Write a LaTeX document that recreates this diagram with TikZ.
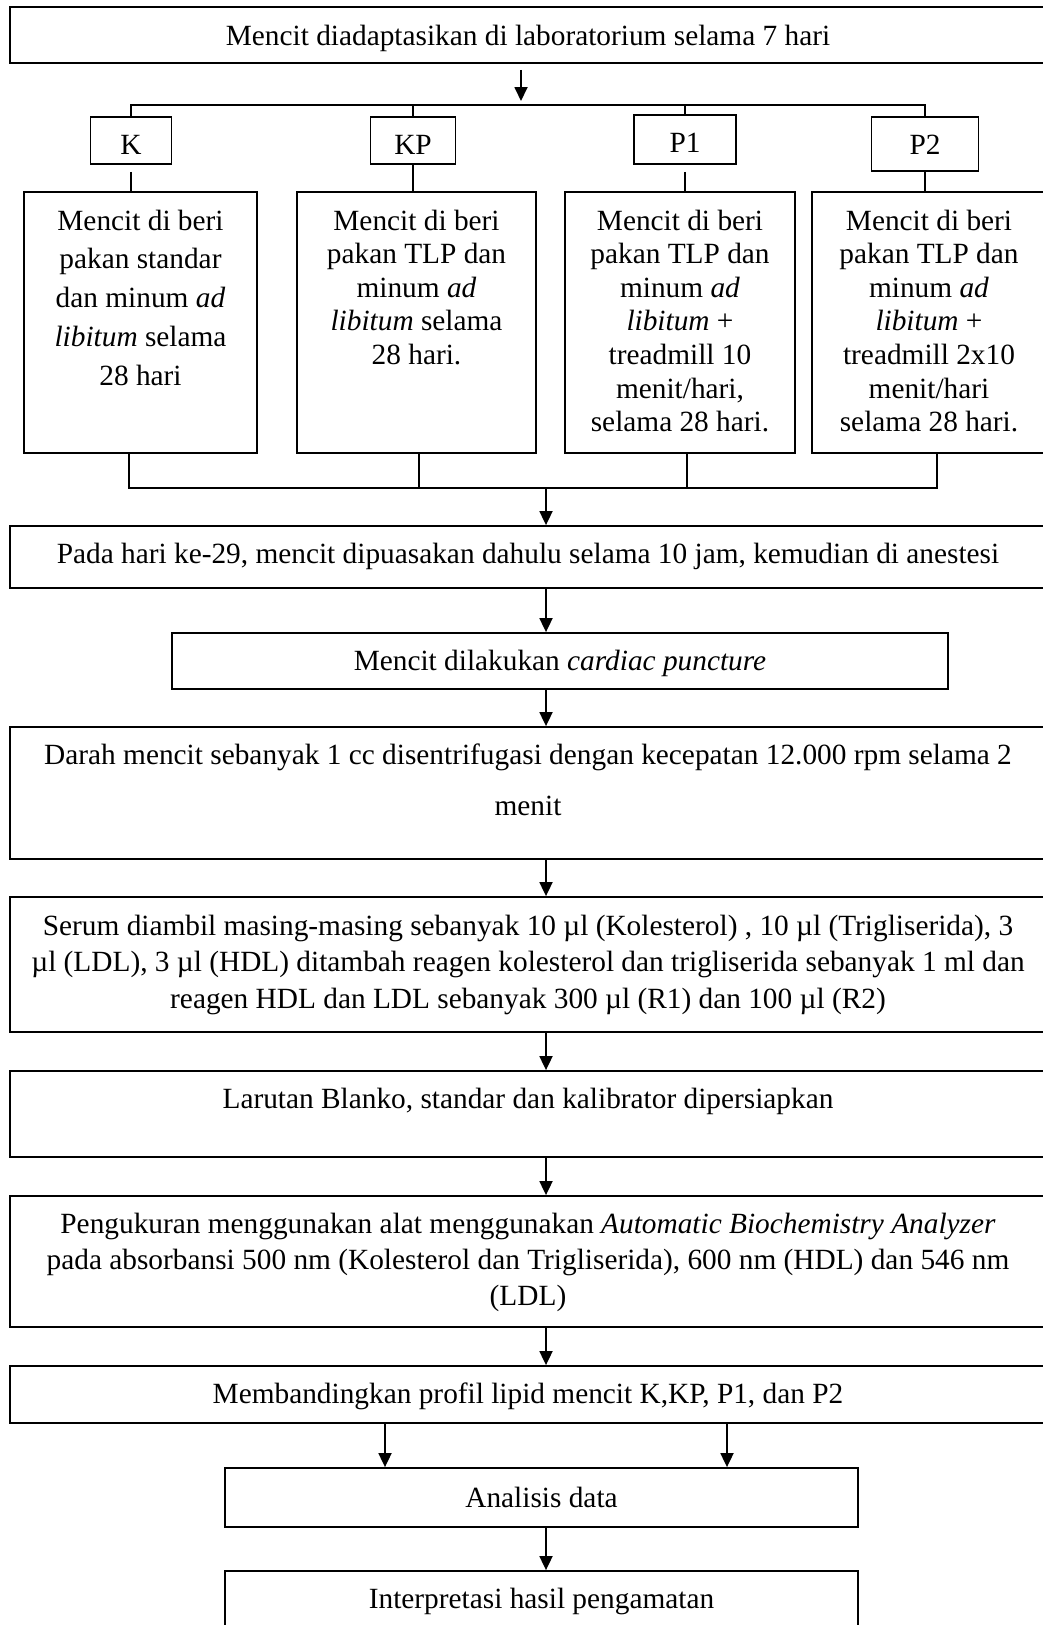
\documentclass[tikz,border=0pt]{standalone}
\usepackage{fontspec}
\setmainfont{Liberation Serif}
\usepackage{tikz}
\usetikzlibrary{arrows.meta,positioning}
\newcommand{\fs}{\fontsize{29.33}{33}\selectfont}
\newcommand{\boxtext}[3]{\parbox[t]{#1}{\centering\fontsize{29.33}{#2}\selectfont #3}}

\begin{document}
\begin{tikzpicture}[x=1pt,y=-1pt,line width=1.8pt,
  box/.style={draw,inner sep=0pt,anchor=base,font=\fs},
  arr/.style={-{Triangle[length=14pt,width=13pt]}}]
\useasboundingbox (0,0) rectangle (1043,1625);
\clip (0,0) rectangle (1043,1625);
\coordinate (split) at (521,105);
\coordinate (merge) at (546,488);
\coordinate (axis) at (546,0);
\coordinate (colL) at (385,0);
\coordinate (colR) at (727,0);
\coordinate (mK) at (129,488);
\coordinate (mKP) at (419,488);
\coordinate (mP1) at (687,488);
\coordinate (mP2) at (937,488);

\node[box,minimum width=1036pt,text height=38pt,text depth=18pt] (adapt) at (528,45) {Mencit diadaptasikan di laboratorium selama 7 hari};

\node[box,minimum width=81pt,text height=37pt,text depth=10pt] (labK) at (131,154) {K};
\node[box,minimum width=85pt,text height=37pt,text depth=10pt] (labKP) at (413,154) {KP};
\node[box,minimum width=102pt,text height=37pt,text depth=12pt] (labP1) at (685,152) {P1};
\node[box,minimum width=107pt,text height=37pt,text depth=17pt] (labP2) at (925,154) {P2};

\node[box,text height=38pt,text depth=223pt] (grpK) at (140.5,230) {\boxtext{233pt}{38.8}{Mencit di beri\\pakan standar\\dan minum \textit{ad}\\\textit{libitum} selama\\28 hari}};
\node[box,text height=38pt,text depth=223pt] (grpKP) at (416.5,230) {\boxtext{239pt}{33.6}{Mencit di beri\\pakan TLP dan\\minum \textit{ad}\\\textit{libitum} selama\\28 hari.}};
\node[box,text height=38pt,text depth=223pt] (grpP1) at (680,230) {\boxtext{230pt}{33.6}{Mencit di beri\\pakan TLP dan\\minum \textit{ad}\\\textit{libitum} +\\treadmill 10\\menit/hari,\\selama 28 hari.}};
\node[box,text height=38pt,text depth=223pt] (grpP2) at (929,230) {\boxtext{234pt}{33.6}{Mencit di beri\\pakan TLP dan\\minum \textit{ad}\\\textit{libitum} +\\treadmill 2x10\\menit/hari\\selama 28 hari.}};

\node[box,minimum width=1036pt,text height=37pt,text depth=25pt] (pada) at (528,563) {Pada hari ke-29, mencit dipuasakan dahulu selama 10 jam, kemudian di anestesi};
\node[box,minimum width=776pt,text height=37pt,text depth=19pt] (cardiac) at (560,670) {Mencit dilakukan \textit{cardiac puncture}};
\node[box,text height=37pt,text depth=95pt] (spin) at (528,764) {\boxtext{1036pt}{51}{Darah mencit sebanyak 1 cc disentrifugasi dengan kecepatan 12.000 rpm selama 2\\menit}};
\node[box,text height=38pt,text depth=97pt] (serum) at (528,935) {\boxtext{1036pt}{36.5}{Serum diambil masing-masing sebanyak 10 µl (Kolesterol) , 10 µl (Trigliserida), 3\\µl (LDL), 3 µl (HDL) ditambah reagen kolesterol dan trigliserida sebanyak 1 ml dan\\reagen HDL dan LDL sebanyak 300 µl (R1) dan 100 µl (R2)}};
\node[box,minimum width=1036pt,text height=37pt,text depth=49pt] (blank) at (528,1108) {Larutan Blanko, standar dan kalibrator dipersiapkan};
\node[box,text height=37pt,text depth=94pt] (measure) at (528,1233) {\boxtext{1036pt}{36}{Pengukuran menggunakan alat menggunakan \textit{Automatic Biochemistry Analyzer}\\pada absorbansi 500 nm (Kolesterol dan Trigliserida), 600 nm (HDL) dan 546 nm\\(LDL)}};
\node[box,minimum width=1036pt,text height=37pt,text depth=20pt] (compare) at (528,1403) {Membandingkan profil lipid mencit K,KP, P1, dan P2};
\node[box,minimum width=633pt,text height=39pt,text depth=20pt] (analysis) at (541.5,1507) {Analisis data};
\node[box,minimum width=633pt,text height=37pt,text depth=40pt] (interp) at (541.5,1608) {Interpretasi hasil pengamatan};

\draw[arr] ([yshift=-6pt]adapt.south -| split) -- ([yshift=4pt]split);
\draw (labK.north) -- (labK.north |- split) -- (labP2.north |- split) -- (labP2.north);
\draw (labKP.north) -- (labKP.north |- split);
\draw (labP1.north) -- (labP1.north |- split);
\draw[shorten <=7pt] (labK.south) -- (labK.south |- grpK.north);
\draw (labKP.south) -- (labKP.south |- grpKP.north);
\draw[shorten <=7pt] (labP1.south) -- (labP1.south |- grpP1.north);
\draw (labP2.south) -- (labP2.south |- grpP2.north);
\draw (grpK.south -| mK) -- (mK) -- (mP2) -- (grpP2.south -| mP2);
\draw (grpKP.south -| mKP) -- (mKP);
\draw (grpP1.south -| mP1) -- (mP1);
\draw[arr] (merge) -- (pada.north -| merge);
\draw[arr] (pada.south -| axis) -- (cardiac.north -| axis);
\draw[arr] (cardiac.south -| axis) -- (spin.north -| axis);
\draw[arr] (spin.south -| axis) -- (serum.north -| axis);
\draw[arr] (serum.south -| axis) -- (blank.north -| axis);
\draw[arr] (blank.south -| axis) -- (measure.north -| axis);
\draw[arr] (measure.south -| axis) -- (compare.north -| axis);
\draw[arr] (compare.south -| colL) -- (analysis.north -| colL);
\draw[arr] (compare.south -| colR) -- (analysis.north -| colR);
\draw[arr] (analysis.south -| axis) -- (interp.north -| axis);
\end{tikzpicture}
\end{document}
